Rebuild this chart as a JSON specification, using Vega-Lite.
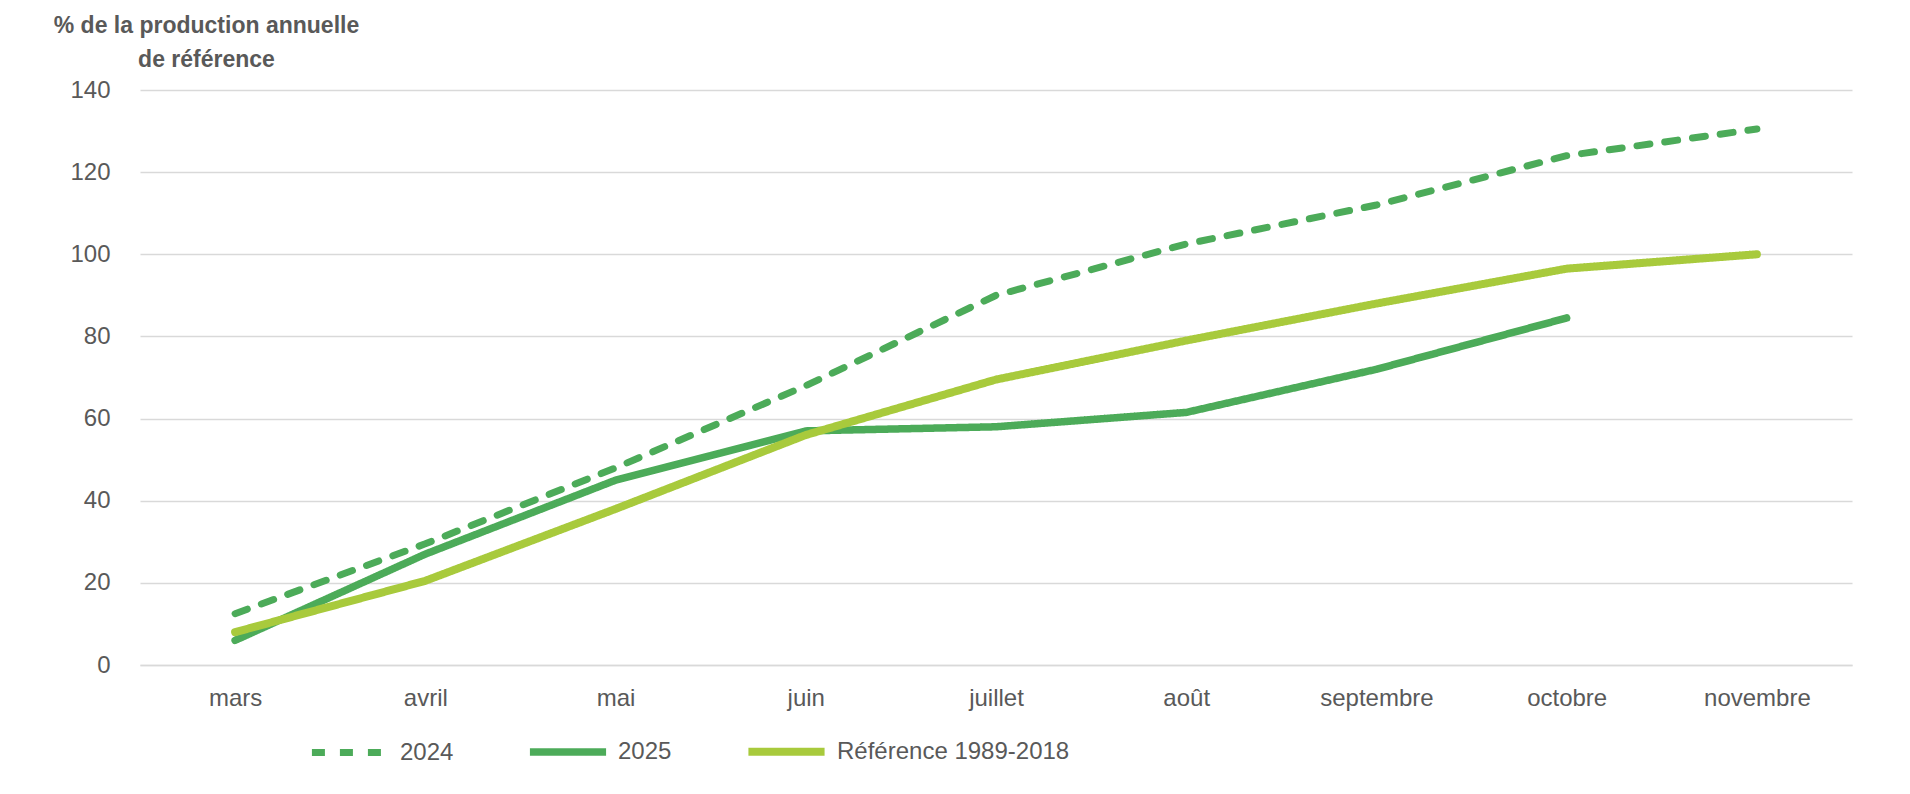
{
  "$schema": "https://vega.github.io/schema/vega-lite/v6.json",
  "autosize": "none",
  "width": 1712,
  "height": 575,
  "padding": {"left": 140, "top": 90, "right": 58, "bottom": 129},
  "background": "white",
  "data": {
    "values": [
      {"serie": "2024", "m": 3, "mois": "mars", "v": 12.5},
      {"serie": "2024", "m": 4, "mois": "avril", "v": 29.5},
      {"serie": "2024", "m": 5, "mois": "mai", "v": 48},
      {"serie": "2024", "m": 6, "mois": "juin", "v": 68},
      {"serie": "2024", "m": 7, "mois": "juillet", "v": 90},
      {"serie": "2024", "m": 8, "mois": "août", "v": 102.5},
      {"serie": "2024", "m": 9, "mois": "septembre", "v": 112},
      {"serie": "2024", "m": 10, "mois": "octobre", "v": 124},
      {"serie": "2024", "m": 11, "mois": "novembre", "v": 130.5},
      {"serie": "2025", "m": 3, "mois": "mars", "v": 6},
      {"serie": "2025", "m": 4, "mois": "avril", "v": 27},
      {"serie": "2025", "m": 5, "mois": "mai", "v": 45},
      {"serie": "2025", "m": 6, "mois": "juin", "v": 57},
      {"serie": "2025", "m": 7, "mois": "juillet", "v": 58},
      {"serie": "2025", "m": 8, "mois": "août", "v": 61.5},
      {"serie": "2025", "m": 9, "mois": "septembre", "v": 72},
      {"serie": "2025", "m": 10, "mois": "octobre", "v": 84.5},
      {"serie": "Référence 1989-2018", "m": 3, "mois": "mars", "v": 8},
      {"serie": "Référence 1989-2018", "m": 4, "mois": "avril", "v": 20.5},
      {"serie": "Référence 1989-2018", "m": 5, "mois": "mai", "v": 38},
      {"serie": "Référence 1989-2018", "m": 6, "mois": "juin", "v": 56},
      {"serie": "Référence 1989-2018", "m": 7, "mois": "juillet", "v": 69.5},
      {"serie": "Référence 1989-2018", "m": 8, "mois": "août", "v": 79},
      {"serie": "Référence 1989-2018", "m": 9, "mois": "septembre", "v": 88},
      {"serie": "Référence 1989-2018", "m": 10, "mois": "octobre", "v": 96.5},
      {"serie": "Référence 1989-2018", "m": 11, "mois": "novembre", "v": 100}
    ]
  },
  "mark": {"type": "line", "strokeCap": "round", "strokeJoin": "round"},
  "encoding": {
    "x": {
      "field": "mois",
      "type": "ordinal",
      "sort": ["mars", "avril", "mai", "juin", "juillet", "août", "septembre", "octobre", "novembre"],
      "scale": {"type": "point", "padding": 0.5},
      "axis": {
        "title": null,
        "labelAngle": 0,
        "ticks": false,
        "grid": false,
        "domainColor": "#d9d9d9",
        "domainWidth": 1.5,
        "labelPadding": 21
      }
    },
    "y": {
      "field": "v",
      "type": "quantitative",
      "scale": {"domain": [0, 140], "nice": false},
      "axis": {
        "values": [0, 20, 40, 60, 80, 100, 120, 140],
        "domain": false,
        "ticks": false,
        "gridColor": "#d9d9d9",
        "gridWidth": 1.5,
        "labelPadding": 30,
        "title": ["% de la production  annuelle", "de référence"],
        "titleAngle": 0,
        "titleAlign": "center",
        "titleBaseline": "alphabetic",
        "titleX": 66,
        "titleY": -58,
        "titleFontWeight": "bold",
        "titleFontSize": 23,
        "titleLineHeight": 34,
        "titleColor": "#595959"
      }
    },
    "color": {
      "field": "serie",
      "type": "nominal",
      "scale": {
        "domain": ["2024", "2025", "Référence 1989-2018"],
        "range": ["#4cab59", "#4cab59", "#a8ca3c"]
      },
      "legend": {
        "title": null,
        "orient": "none",
        "direction": "horizontal",
        "legendX": 168,
        "legendY": 619,
        "symbolType": "stroke",
        "symbolSize": 5800,
        "symbolStrokeWidth": 7,
        "labelOffset": 8,
        "labelLimit": 400,
        "columnPadding": 60
      }
    },
    "strokeDash": {
      "field": "serie",
      "type": "nominal",
      "scale": {
        "domain": ["2024", "2025", "Référence 1989-2018"],
        "range": [[13, 15], [1, 0], [1, 0]]
      },
      "legend": null
    },
    "strokeWidth": {
      "field": "serie",
      "type": "nominal",
      "scale": {
        "domain": ["2024", "2025", "Référence 1989-2018"],
        "range": [7, 8, 6]
      },
      "legend": null
    },
    "order": {"field": "m", "type": "quantitative"}
  },
  "config": {
    "view": {"stroke": null},
    "font": "Liberation Sans",
    "axis": {"labelFont": "Liberation Sans", "titleFont": "Liberation Sans", "labelFontSize": 24, "labelColor": "#595959"},
    "legend": {"labelFont": "Liberation Sans", "labelFontSize": 24, "labelColor": "#595959"}
  }
}
